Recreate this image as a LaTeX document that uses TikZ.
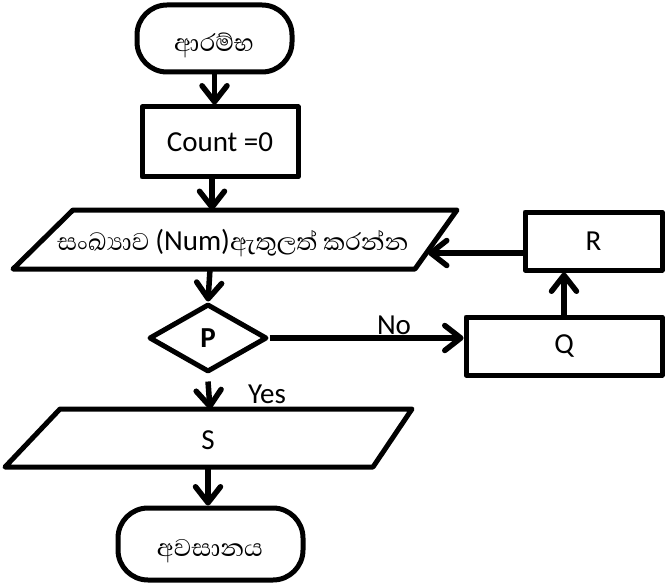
\documentclass[tikz,border=0pt]{standalone}
\usepackage{fontspec}
\setmainfont{Carlito}
\newfontfamily\sinhala[Script=Sinhala]{Abhaya Libre}
\usetikzlibrary{arrows.meta,shapes.geometric}

\begin{document}
\begin{tikzpicture}[x=1pt,y=-1pt,
  line width=5pt, line join=round,
  box/.style={draw, rectangle, inner sep=0pt},
  term/.style={draw, rectangle, rounded corners=30pt, inner sep=0pt},
  flow/.style={line width=5.5pt, -{Straight Barb[length=16pt,width=25pt,round]}},
  lbl/.style={inner sep=0pt, font=\fontsize{29}{31}\selectfont},
  sin/.style={inner sep=0pt, font=\fontsize{31}{33}\sinhala}]
\useasboundingbox (0,0) rectangle (668,585);

% terminals and process boxes
\node[term, minimum width=155pt, minimum height=67pt] (start) at (214.5,38.5) {};
\node[sin] (startlbl) at (214,45) {ආරම්භ};
\node[box, minimum width=156pt, minimum height=70pt, lbl] (init) at (220,142) {Count =0};
\node[box, minimum width=137pt, minimum height=58pt, lbl] (procr) at (593.5,241) {R};
\node[box, minimum width=196pt, minimum height=58pt, lbl] (procq) at (564,346) {Q};
\node[term, minimum width=185pt, minimum height=72pt] (stop) at (210.5,544) {};
\node[sin] (stoplbl) at (210,551) {අවසානය};

% input parallelogram
\coordinate (inTop) at (212,210);
\coordinate (inBot) at (210,269);
\coordinate (inR) at (428,253);
\draw (73,210) -- (457,210) -- (415,269) -- (13,269) -- cycle;
\node[inner sep=0pt, font=\fontsize{29}{31}\selectfont] (input) at (233,243)
  {{\fontsize{31}{33}\sinhala සංඛ්‍යාව }(Num){\fontsize{31}{33}\sinhala ඇතුලත් කරන්න}};

% decision
\node[draw, diamond, minimum width=118pt, minimum height=68pt, inner sep=0pt,
  font=\fontsize{29}{31}\selectfont\bfseries] (cond) at (208,338) {P};

% output parallelogram
\coordinate (outTop) at (210,409);
\coordinate (outBot) at (208,467);
\draw (60,409) -- (412,409) -- (373,467) -- (5,467) -- cycle;
\node[lbl] (output) at (208,440) {S};

% connectors
\draw[flow] (start.south) -- (start.south |- init.north);
\draw[flow] (init.south -| inTop) -- (inTop);
\draw[flow] (inBot) -- (cond.north);
\draw[flow] (cond.east) -- (cond.east -| procq.west);
\draw[flow] (procq.north) -- (procq.north |- procr.south);
\draw[flow] (procr.west |- inR) -- (inR);
\draw[flow] ([yshift=-7pt]cond.south) -- (outTop);
\draw[flow] (outBot) -- (outBot |- stop.north);

% branch labels
\node[lbl] (nolbl) at (394,325) {No};
\node[lbl] (yeslbl) at (267,394) {Yes};
\end{tikzpicture}
\end{document}
